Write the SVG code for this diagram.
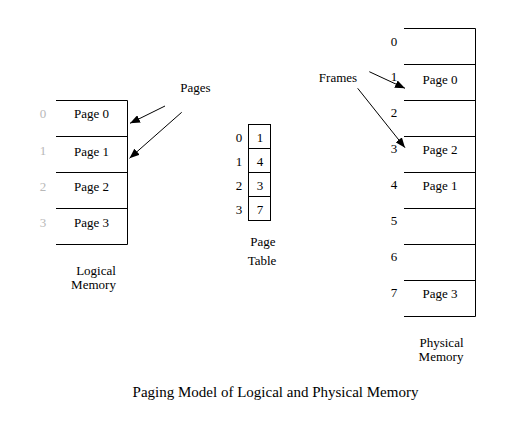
<svg xmlns="http://www.w3.org/2000/svg" width="523" height="428" viewBox="0 0 523 428" font-family="'Liberation Serif', 'Times New Roman', serif" font-size="13">
<style>
text{font-family:'Liberation Serif','Times New Roman',serif;font-size:13px;fill:#000}
.c{text-anchor:middle}
.g{fill:#b8b8b8}
.ln{stroke:#000;stroke-width:1;fill:none}
.title{font-size:15px}
</style>
<defs>
<marker id="ah" markerUnits="userSpaceOnUse" markerWidth="11" markerHeight="8" refX="10" refY="4" orient="auto">
<path d="M0,0 L10,4 L0,8 Z" fill="#000"/>
</marker>
</defs>
<rect width="523" height="428" fill="#fff"/>

<g id="logical-memory">
<path class="ln" d="M56,100.5H127.5V244.5H56M56,136.5H127.5M56,172.5H127.5M56,208.5H127.5"/>
<text class="c g" x="43" y="118">0</text>
<text class="c g" x="43" y="155">1</text>
<text class="c g" x="43" y="191">2</text>
<text class="c g" x="43" y="227">3</text>
<text class="c" x="91.5" y="118">Page 0</text>
<text class="c" x="91.5" y="156">Page 1</text>
<text class="c" x="91.5" y="191">Page 2</text>
<text class="c" x="91.5" y="227">Page 3</text>
<text class="c" x="96" y="275">Logical</text>
<text class="c" x="93.5" y="289">Memory</text>
</g>

<g id="pages-label">
<text class="c" x="195.5" y="92">Pages</text>
</g>

<g id="page-table">
<rect class="ln" x="248.5" y="124.5" width="22" height="96"/>
<path class="ln" d="M248.5,148.5H270.5M248.5,172.5H270.5M248.5,196.5H270.5"/>
<text class="c" x="239" y="142">0</text>
<text class="c" x="239" y="166">1</text>
<text class="c" x="239" y="190">2</text>
<text class="c" x="239" y="214">3</text>
<text class="c" x="260" y="142">1</text>
<text class="c" x="260" y="166">4</text>
<text class="c" x="260" y="190">3</text>
<text class="c" x="260" y="214">7</text>
<text class="c" x="263" y="246">Page</text>
<text class="c" x="262" y="265">Table</text>
</g>

<g id="frames-label">
<text class="c" x="338" y="82">Frames</text>
</g>

<g id="physical-memory">
<path class="ln" d="M404,28.5H475.5V316.5H404M404,64.5H475.5M404,100.5H475.5M404,136.5H475.5M404,172.5H475.5M404,208.5H475.5M404,244.5H475.5M404,280.5H475.5"/>
<text class="c" x="394" y="46">0</text>
<text class="c" x="394" y="81">1</text>
<text class="c" x="394" y="117">2</text>
<text class="c" x="394" y="153">3</text>
<text class="c" x="394" y="189">4</text>
<text class="c" x="394" y="225">5</text>
<text class="c" x="394" y="261">6</text>
<text class="c" x="394" y="297">7</text>
<text class="c" x="440" y="84">Page 0</text>
<text class="c" x="440" y="154">Page 2</text>
<text class="c" x="440" y="190">Page 1</text>
<text class="c" x="440" y="298">Page 3</text>
<text class="c" x="441.5" y="347">Physical</text>
<text class="c" x="441" y="361">Memory</text>
</g>

<g id="connectors">
<line class="ln" x1="165" y1="106" x2="130" y2="123.3" marker-end="url(#ah)"/>
<line class="ln" x1="181.7" y1="112.3" x2="129.5" y2="158.3" marker-end="url(#ah)"/>
<line class="ln" x1="369.3" y1="71.7" x2="405" y2="88.3" marker-end="url(#ah)"/>
<line class="ln" x1="357.7" y1="88.3" x2="405" y2="147.7" marker-end="url(#ah)"/>
</g>

<g id="caption">
<text class="c title" x="275.5" y="397">Paging Model of Logical and Physical Memory</text>
</g>
</svg>
